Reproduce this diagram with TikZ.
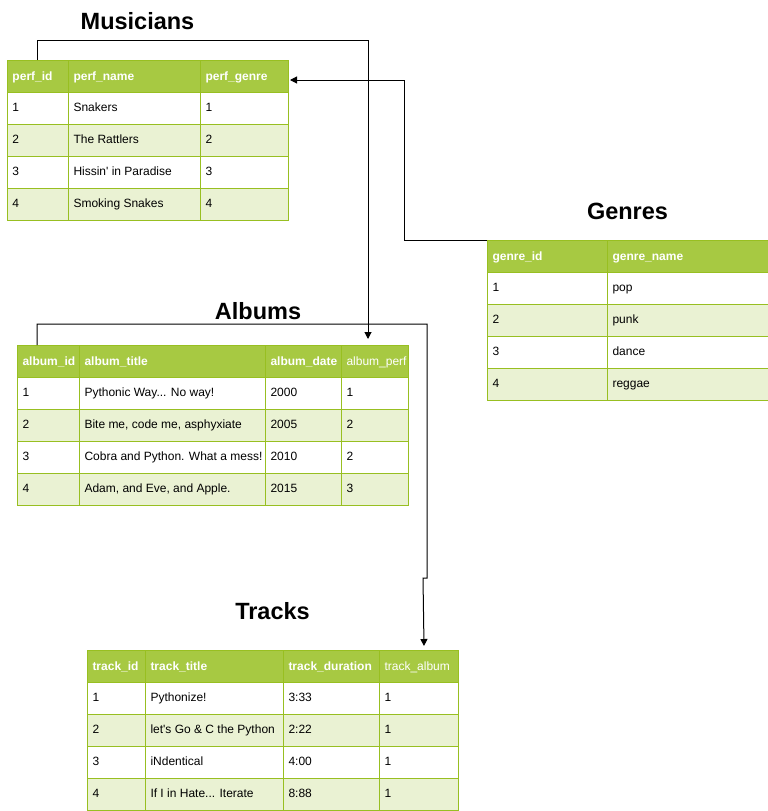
\documentclass[tikz,border=0pt]{standalone}
\usepackage{fontspec}
\setmainfont{Liberation Sans}
\usetikzlibrary{arrows.meta}
\definecolor{hdrgreen}{HTML}{A7C942}
\definecolor{gridgreen}{HTML}{98BF21}
\definecolor{rowgreen}{HTML}{EAF2D3}

\begin{document}
\begin{tikzpicture}[x=1pt, y=-1pt, line width=1pt,
  tabletitle/.style={inner sep=0pt, font=\fontsize{23.5}{28}\selectfont\bfseries},
  tablebox/.style={draw=gridgreen, minimum height=160pt, anchor=north west, inner sep=0pt},
  gridline/.style={draw=gridgreen},
  hdrtext/.style={anchor=base west, inner sep=0pt, text=white, font=\fontsize{12}{14}\selectfont\bfseries},
  hdrplain/.style={hdrtext, font=\fontsize{12}{14}\selectfont},
  celltext/.style={anchor=base west, inner sep=0pt, font=\fontsize{12}{14}\selectfont},
  link/.style={draw=black, line width=1pt, -{Triangle[length=7pt, width=7pt]}}]
    \useasboundingbox (0,0) rectangle (768,811);

    % Musicians table
    \node[tabletitle] (mustitle) at (137.5,21.5) {Musicians};
    \fill[hdrgreen] (7,60) rectangle ++(281,32);
    \foreach \r in {2,4} \fill[rowgreen] (7,60+32*\r) rectangle ++(281,32);
    \foreach \yy in {92,124,156,188} \draw[gridline] (7,\yy) -- ++(281,0);
    \foreach \xx in {68,200} \draw[gridline] (\xx,60) -- ++(0,160);
    \node[tablebox, minimum width=281pt] (musicians) at (7,60) {};
    \foreach \xx/\txt [count=\i] in {12/perf\_id, 73/perf\_name, 205/perf\_genre}
      \node[hdrtext] (mus-h\i) at (\xx,80) {\txt};
    \foreach \a/\b/\c [count=\i] in {1/Snakers/1, 2/The Rattlers/2,
        3/Hissin\textquotesingle{} in Paradise/3, 4/Smoking Snakes/4} {
      \node[celltext] (mus-\i-a) at (12,79+32*\i) {\a};
      \node[celltext] (mus-\i-b) at (73,79+32*\i) {\b};
      \node[celltext] (mus-\i-c) at (205,79+32*\i) {\c};
    }

    % Genres table
    \node[tabletitle] (gentitle) at (627.5,211) {Genres};
    \fill[hdrgreen] (487,240) rectangle ++(281,32);
    \foreach \r in {2,4} \fill[rowgreen] (487,240+32*\r) rectangle ++(281,32);
    \foreach \yy in {272,304,336,368} \draw[gridline] (487,\yy) -- ++(281,0);
    \draw[gridline] (607,240) -- ++(0,160);
    \node[tablebox, minimum width=281pt] (genres) at (487,240) {};
    \foreach \xx/\txt [count=\i] in {492/genre\_id, 612/genre\_name}
      \node[hdrtext] (gen-h\i) at (\xx,260) {\txt};
    \foreach \a/\b [count=\i] in {1/pop, 2/punk, 3/dance, 4/reggae} {
      \node[celltext] (gen-\i-a) at (492,259+32*\i) {\a};
      \node[celltext] (gen-\i-b) at (612,259+32*\i) {\b};
    }

    % Albums table
    \node[tabletitle] (albtitle) at (258,311.5) {Albums};
    \fill[hdrgreen] (17,345) rectangle ++(391,32);
    \foreach \r in {2,4} \fill[rowgreen] (17,345+32*\r) rectangle ++(391,32);
    \foreach \yy in {377,409,441,473} \draw[gridline] (17,\yy) -- ++(391,0);
    \foreach \xx in {79,265,341} \draw[gridline] (\xx,345) -- ++(0,160);
    \node[tablebox, minimum width=391pt] (albums) at (17,345) {};
    \foreach \xx/\txt [count=\i] in {22/album\_id, 84/album\_title, 270/album\_date}
      \node[hdrtext] (alb-h\i) at (\xx,365) {\txt};
    \node[hdrplain] (alb-h4) at (346,365) {album\_perf};
    \foreach \a/\b/\c/\d [count=\i] in {1/{Pythonic Way... No way!}/2000/1,
        2/{Bite me, code me, asphyxiate}/2005/2, 3/Cobra and Python. What a mess!/2010/2,
        4/{Adam, and Eve, and Apple.}/2015/3} {
      \node[celltext] (alb-\i-a) at (22,364+32*\i) {\a};
      \node[celltext] (alb-\i-b) at (84,364+32*\i) {\b};
      \node[celltext] (alb-\i-c) at (270,364+32*\i) {\c};
      \node[celltext] (alb-\i-d) at (346,364+32*\i) {\d};
    }

    % Tracks table
    \node[tabletitle] (trktitle) at (272.5,611.5) {Tracks};
    \fill[hdrgreen] (87,650) rectangle ++(371,32);
    \foreach \r in {2,4} \fill[rowgreen] (87,650+32*\r) rectangle ++(371,32);
    \foreach \yy in {682,714,746,778} \draw[gridline] (87,\yy) -- ++(371,0);
    \foreach \xx in {145,283,379} \draw[gridline] (\xx,650) -- ++(0,160);
    \node[tablebox, minimum width=371pt] (tracks) at (87,650) {};
    \foreach \xx/\txt [count=\i] in {92/track\_id, 150/track\_title, 288/track\_duration}
      \node[hdrtext] (trk-h\i) at (\xx,670) {\txt};
    \node[hdrplain] (trk-h4) at (384,670) {track\_album};
    \foreach \a/\b/\c/\d [count=\i] in {1/Pythonize!/3:33/1, 2/let\textquotesingle{}s Go \& C the Python/2:22/1,
        3/iNdentical/4:00/1, 4/{If I in Hate... Iterate}/8:88/1} {
      \node[celltext] (trk-\i-a) at (92,669+32*\i) {\a};
      \node[celltext] (trk-\i-b) at (150,669+32*\i) {\b};
      \node[celltext] (trk-\i-c) at (288,669+32*\i) {\c};
      \node[celltext] (trk-\i-d) at (384,669+32*\i) {\d};
    }

    % draw connectors
    \coordinate (albperf) at ([xshift=-41pt, yshift=6pt]albums.north east);
    \coordinate (musgenre) at ([xshift=1pt, yshift=-20pt]musicians.north east);
    \coordinate (trkalbum) at ([xshift=-35pt, yshift=4pt]tracks.north east);

    \draw[link] ([xshift=30pt]musicians.north west) -- ++(0,-20) -| (albperf);
    \draw[link] (genres.north west) -- ++(-83,0) |- (musgenre);
    \draw[link] ([xshift=20pt]albums.north west) -- ++(0,-21) -- ++(390,0)
      -- ++(0,254) -- ++(-4,0) -- (trkalbum);
\end{tikzpicture}
\end{document}
